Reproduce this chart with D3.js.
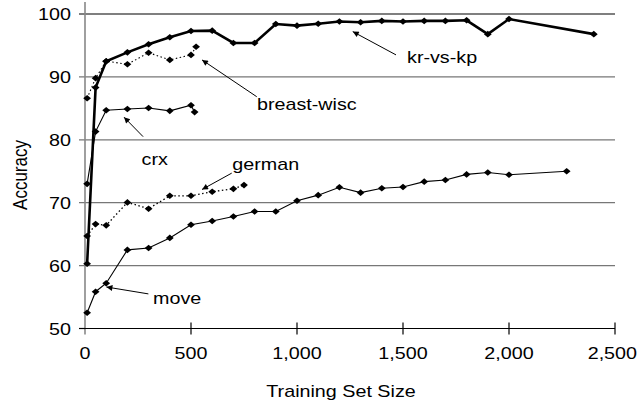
<!DOCTYPE html>
<html><head><meta charset="utf-8">
<script src="https://cdn.jsdelivr.net/npm/d3@7"></script>
<style>html,body{margin:0;padding:0;background:#fff}svg{display:block}</style>
</head><body>
<svg id="chart" width="639" height="406"></svg>
<script>
// ---- data ----
const krX   = [10, 50, 100, 200, 300, 400, 500, 600, 700, 800, 900, 1000, 1100, 1200, 1300, 1400, 1500, 1600, 1700, 1800, 1900, 2000, 2400];
const krY   = [60.3, 88.3, 92.5, 93.9, 95.2, 96.3, 97.3, 97.35, 95.4, 95.4, 98.4, 98.15, 98.45, 98.8, 98.7, 98.9, 98.8, 98.9, 98.9, 99.0, 96.8, 99.2, 96.8];
const bwX   = [10, 50, 100, 200, 300, 400, 500, 524];
const bwY   = [86.6, 89.8, 92.5, 92.0, 93.85, 92.7, 93.5, 94.8];
const crxX  = [10, 50, 100, 200, 300, 400, 500, 517];
const crxY  = [73.0, 81.3, 84.7, 84.9, 85.05, 84.6, 85.5, 84.4];
const gerX  = [10, 50, 100, 200, 300, 400, 500, 600, 700, 750];
const gerY  = [64.7, 66.6, 66.4, 70.05, 69.05, 71.1, 71.1, 71.75, 72.2, 72.8];
const moveX = [10, 50, 100, 200, 300, 400, 500, 600, 700, 800, 900, 1000, 1100, 1200, 1300, 1400, 1500, 1600, 1700, 1800, 1900, 2000, 2272];
const moveY = [52.5, 55.85, 57.2, 62.5, 62.8, 64.4, 66.5, 67.1, 67.8, 68.6, 68.6, 70.3, 71.2, 72.45, 71.6, 72.3, 72.5, 73.35, 73.6, 74.5, 74.8, 74.45, 75.0];
const xTicks = [0, 500, 1000, 1500, 2000, 2500];
const yTicks = [50, 60, 70, 80, 90, 100];
const labels = ["kr-vs-kp", "breast-wisc", "crx", "german", "move"];
// annotation anchors in data units: [textX, textY, arrowFromX, arrowFromY, arrowToX, arrowToY]
const notes = [
  [1519, 92.2, 1467, 93.5, 1263, 97.2],
  [811, 84.7, 810, 86.85, 552, 92.7],
  [267, 76.0, 274, 80.5, 184, 83.6],
  [695, 75.2, 692, 74.7, 552, 72.1],
  [321, 53.9, 299, 55.5, 101, 56.6]
];

const svg = d3.select("#chart");
const FONT = "'Liberation Sans', Arial, sans-serif";
const FS = 17, SX = 1.16;
const x = d3.scaleLinear().domain([0, 2500]).range([85, 615]);
const y = d3.scaleLinear().domain([50, 100]).range([328.5, 14]);

// gridlines
svg.append("g").selectAll("line").data(yTicks.filter(v => v > 50)).join("line")
  .attr("x1", x(0) - 6).attr("x2", x(2500))
  .attr("y1", d => y(d)).attr("y2", d => y(d))
  .attr("stroke", d => d === 100 ? "#000" : "#777").attr("stroke-width", 1.2);

// y axis line + ticks
svg.append("line").attr("x1", x(0)).attr("x2", x(0)).attr("y1", 2).attr("y2", y(50) + 6)
  .attr("stroke", "#888").attr("stroke-width", 1.6);
svg.append("line").attr("x1", x(0) - 6).attr("x2", x(0)).attr("y1", y(50)).attr("y2", y(50))
  .attr("stroke", "#000").attr("stroke-width", 1.2);
// x axis
svg.append("line").attr("x1", x(0)).attr("x2", x(2500)).attr("y1", y(50)).attr("y2", y(50))
  .attr("stroke", "#000").attr("stroke-width", 1.2);
svg.append("g").selectAll("line").data(xTicks.filter(v => v > 0)).join("line")
  .attr("x1", d => x(d)).attr("x2", d => x(d)).attr("y1", y(50) - 6).attr("y2", y(50) + 6)
  .attr("stroke", "#000").attr("stroke-width", 1.2);

function txt(t, px, py, anchor, rot) {
  const tr = rot ? `translate(${px},${py}) rotate(-90) scale(1,${SX})` : `translate(${px},${py}) scale(${SX},1)`;
  svg.append("text").attr("transform", tr).attr("text-anchor", anchor)
    .attr("font-family", FONT).attr("font-size", FS).attr("fill", "#000").text(t);
}
const fmt = d3.format(",");
xTicks.forEach((v, i) => {
  if (i === xTicks.length - 1) txt(fmt(v), 637, 359, "end");
  else txt(fmt(v), x(v), 359, "middle");
});
yTicks.forEach(v => txt(String(v), 71, y(v) + 6, "end"));
txt("Training Set Size", 341, 397, "middle");
txt("Accuracy", 26.5, 175, "middle", true);

// series
const series = [
  {xs: krX, ys: krY, w: 2.6, dash: null},
  {xs: bwX, ys: bwY, w: 1.1, dash: "1.5,2.5"},
  {xs: crxX, ys: crxY, w: 1.1, dash: null},
  {xs: gerX, ys: gerY, w: 1.3, dash: "1.5,2.5"},
  {xs: moveX, ys: moveY, w: 1.1, dash: null}
];
const line = d3.line().x(d => x(d[0])).y(d => y(d[1]));
const diamond = "M0,-3.3L3.9,0L0,3.3L-3.9,0Z";
series.forEach(s => {
  const pts = s.xs.map((v, i) => [v, s.ys[i]]);
  svg.append("path").attr("d", line(pts)).attr("fill", "none")
    .attr("stroke", "#000").attr("stroke-width", s.w)
    .attr("stroke-dasharray", s.dash);
});
series.forEach(s => {
  const pts = s.xs.map((v, i) => [v, s.ys[i]]);
  svg.append("g").selectAll("path").data(pts).join("path")
    .attr("transform", d => `translate(${x(d[0])},${y(d[1])})`)
    .attr("d", diamond).attr("fill", "#000");
});

// arrows
const defs = svg.append("defs");
defs.append("marker").attr("id", "ah").attr("viewBox", "0 0 10 10").attr("refX", 10).attr("refY", 5)
  .attr("markerWidth", 8).attr("markerHeight", 6).attr("markerUnits", "userSpaceOnUse").attr("orient", "auto")
  .append("path").attr("d", "M0,0 L10,5 L0,10 Z").attr("fill", "#000");
notes.forEach((n, i) => {
  svg.append("line").attr("x1", x(n[2])).attr("y1", y(n[3])).attr("x2", x(n[4])).attr("y2", y(n[5]))
    .attr("stroke", "#000").attr("stroke-width", 1).attr("marker-end", "url(#ah)");
  txt(labels[i], x(n[0]), y(n[1]), "start");
});
</script>
</body></html>
